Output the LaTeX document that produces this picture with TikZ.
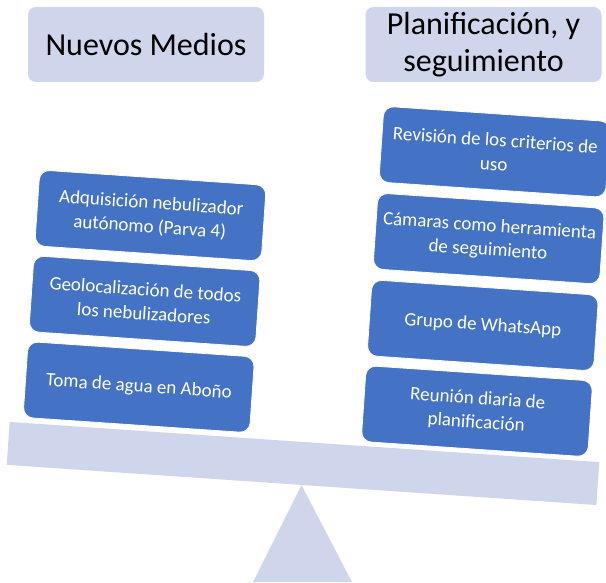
\documentclass[tikz,border=0pt]{standalone}
\usepackage{fontspec}
\setmainfont{Carlito}
\definecolor{lavanda}{HTML}{CFD5EA}
\definecolor{azulcaja}{HTML}{4472C4}
\tikzset{
	cabecera/.style={fill=lavanda,rounded corners=8pt,minimum width=236pt,minimum height=75pt,
		inner sep=0pt,align=center,font=\fontsize{32}{37}\selectfont},
	caja/.style={fill=azulcaja,draw=white,line width=0.8pt,rounded corners=10pt,
		minimum width=227pt,minimum height=76pt,inner sep=0pt,align=center,text=white,
		font=\fontsize{19}{24}\selectfont},
}
\begin{document}
\begin{tikzpicture}[x=1pt,y=1pt]
	\useasboundingbox (0,0) rectangle (606,582);
	\node[cabecera] (nuevos) at (146,537.5) {Nuevos Medios};
	\node[cabecera] (planif) at (483.5,537.5) {Planificación, y\\seguimiento};
	% barra y apoyo
	\coordinate (pieA) at (253,0);
	\coordinate (pieB) at (352,0);
	\node[fill=lavanda,minimum width=591pt,minimum height=43pt,inner sep=0pt,rotate=-3.9] (barra) at (303,118.5) {};
	\fill[lavanda] (barra.south) -- (pieA) -- (pieB) -- cycle;
	\begin{scope}[shift={(barra.center)},rotate=-3.9,transform shape]
		\foreach \n/\y/\t in {1/65/{Toma de agua en Aboño},
			2/151/{Geolocalización de todos\\los nebulizadores},
			3/237/{Adquisición nebulizador\\autónomo (Parva 4)}}{
			\node[caja] (izq\n) at (-169,\y) {\t};}
		\foreach \n/\y/\t in {1/64/{Reunión diaria de\\planificación},
			2/150/{Grupo de WhatsApp},
			3/237/{Cámaras como herramienta\\de seguimiento},
			4/324/{Revisión de los criterios de\\uso}}{
			\node[caja] (der\n) at (170,\y) {\t};}
	\end{scope}
\end{tikzpicture}
\end{document}
